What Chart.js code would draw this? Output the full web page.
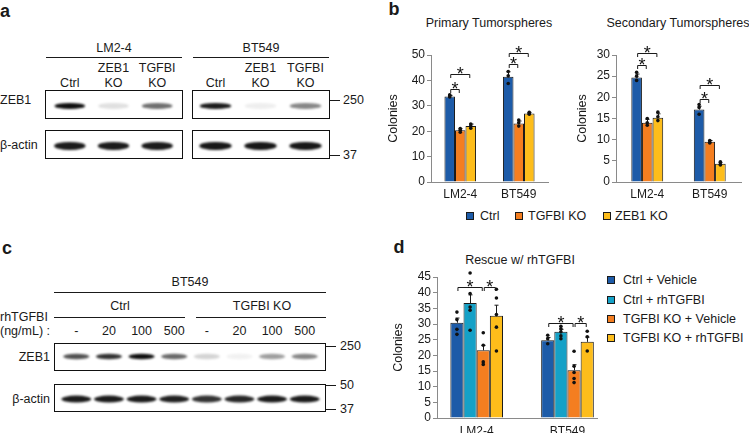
<!DOCTYPE html>
<html>
<head>
<meta charset="utf-8">
<script src="https://cdn.jsdelivr.net/npm/chart.js@4.4.1/dist/chart.umd.min.js"></script>
<style>
  html, body { margin: 0; padding: 0; background: #fff; overflow: hidden; }
  #fig { position: relative; width: 749px; height: 433px; font-family: 'Liberation Sans', Arial, sans-serif; color: #1a1a1a; }
  #fig canvas { position: absolute; }
  .t { position: absolute; white-space: nowrap; font-size: 12.5px; line-height: 1; }
  .pl { font-weight: bold; font-size: 18px; }
  .hl { position: absolute; height: 0; border-top: 1px solid #1a1a1a; }
  .sw { position: absolute; width: 6px; height: 6px; border: 1px solid #1a1a1a; }
</style>
</head>
<body>
<div id="fig"></div>
<script>
// ---- panel a: western blot band intensities (0 = no band, 1 = saturated)
const aLanes = ['Ctrl', 'ZEB1 KO', 'TGFBI KO']
const aZeb1Lm2 = [1.0, 0.13, 0.6]
const aZeb1Bt549 = [0.95, 0.07, 0.5]
const aActinLm2 = [0.95, 0.95, 0.95]
const aActinBt549 = [0.97, 0.97, 0.97]

// ---- panel c: BT549 +/- rhTGFBI dose
const cDoses = ['-', '20', '100', '500', '-', '20', '100', '500']
const cZeb1 = [0.72, 0.85, 1.0, 0.62, 0.18, 0.06, 0.4, 0.5]
const cActin = [0.95, 0.95, 0.95, 0.93, 0.85, 0.9, 0.95, 0.95]

// ---- panel b: tumorsphere colonies
const bGroups = ['LM2-4', 'BT549']
const bSeries = ['Ctrl', 'TGFBI KO', 'ZEB1 KO']
const primCtrl = [33.7, 41.4]
const primTgfbi = [20.4, 23.0]
const primZeb1 = [22.0, 27.0]
const primErr = [[0.4, 2.0], [0.6, 1.0], [0.8, 0.4]]
const primDots = [
  [[33.5, 34.0, 34.3], [43.5, 41.8, 38.8]],
  [[19.6, 20.4, 21.0], [22.0, 23.3, 24.4]],
  [[21.2, 22.0, 22.8], [26.7, 27.0, 27.4]]
]
const primSig = [[0, 0, 1, 36.8], [0, 0, 2, 42.4], [1, 0, 1, 46.4], [1, 0, 2, 50.7]]

const secCtrl = [24.7, 17.1]
const secTgfbi = [14.0, 9.5]
const secZeb1 = [15.2, 4.3]
const secErr = [[0.8, 0.8], [0.8, 0.3], [0.9, 0.3]]
const secDots = [
  [[25.9, 25.0, 24.0], [18.3, 17.6, 16.0]],
  [[15.0, 14.0, 13.4], [9.8, 9.4, 9.2]],
  [[16.5, 15.4, 14.5], [4.8, 4.2, 4.0]]
]
const secSig = [[0, 0, 1, 27.6], [0, 0, 2, 30.4], [1, 0, 1, 19.5], [1, 0, 2, 22.9]]

// ---- panel d: rescue with rhTGFBI
const dGroups = ['LM2-4', 'BT549']
const dSeries = ['Ctrl + Vehicle', 'Ctrl + rhTGFBI', 'TGFBI KO + Vehicle', 'TGFBI KO + rhTGFBI']
const dCtrlVeh = [30.4, 24.8]
const dCtrlRh = [36.7, 27.5]
const dKoVeh = [21.6, 15.2]
const dKoRh = [32.6, 24.3]
const dErr = [[1.5, 0.9], [2.6, 0.8], [1.6, 1.8], [3.4, 1.5]]
const dDots = [
  [[33.8, 31.4, 28.3, 26.7], [26.4, 25.3, 23.7]],
  [[46.3, 39.7, 35.4, 34.4, 28.0], [29.3, 28.5, 27.5, 26.2, 25.3]],
  [[27.2, 23.2, 17.9, 17.1], [21.3, 16.5, 14.5, 12.6, 11.3]],
  [[41.1, 38.3, 33.0, 29.0, 21.4], [27.7, 25.9, 21.4]]
]
const dSig = [[0, 0, 2, 41.8], [0, 2, 3, 41.8], [1, 0, 2, 30.4], [1, 2, 3, 30.4]]

const BLUE = '#1d5ba8', ORANGE = '#f47e20', YELLOW = '#fdbd1b', CYAN = '#15a1c7'

Chart.defaults.font.family = "'Liberation Sans', Arial, sans-serif"
Chart.defaults.font.size = 12
Chart.defaults.color = '#1a1a1a'

const fig = document.getElementById('fig')

function addCanvas (x, y, w, h) {
  const c = document.createElement('canvas')
  c.width = w
  c.height = h
  c.style.left = x + 'px'
  c.style.top = y + 'px'
  fig.appendChild(c)
  return c
}

function text (str, x, y, align, cls) {
  const el = document.createElement('div')
  el.className = 't' + (cls ? ' ' + cls : '')
  el.textContent = str
  el.style.left = x + 'px'
  el.style.top = y + 'px'
  const tx = align === 'l' ? '0' : (align === 'r' ? '-100%' : '-50%')
  el.style.transform = 'translate(' + tx + ',-50%)'
  fig.appendChild(el)
  return el
}

function hline (x1, x2, y) {
  const el = document.createElement('div')
  el.className = 'hl'
  el.style.left = x1 + 'px'
  el.style.top = y + 'px'
  el.style.width = (x2 - x1) + 'px'
  fig.appendChild(el)
}

function swatch (x, y, color) {
  const el = document.createElement('div')
  el.className = 'sw'
  el.style.left = x + 'px'
  el.style.top = (y - 4) + 'px'
  el.style.background = color
  fig.appendChild(el)
}

// draws blurred bands at each lane, alpha = intensity
const blotPlugin = {
  id: 'blot',
  afterDatasetsDraw (chart, args, opts) {
    const ctx = chart.ctx
    const vals = chart.data.datasets[0].data
    const cy = chart.chartArea.top + (chart.chartArea.bottom - chart.chartArea.top) * opts.center
    ctx.save()
    ctx.filter = 'blur(' + opts.blur + 'px)'
    chart.getDatasetMeta(0).data.forEach((el, i) => {
      ctx.fillStyle = 'rgba(15,15,15,' + vals[i] + ')'
      ctx.beginPath()
      ctx.ellipse(el.x, cy, el.width / 2, opts.thick / 2, 0, 0, Math.PI * 2)
      ctx.fill()
    })
    ctx.restore()
    ctx.save()
    ctx.strokeStyle = '#111'
    ctx.lineWidth = 1
    ctx.strokeRect(0.5, 0.5, chart.width - 1, chart.height - 1)
    ctx.restore()
  }
}

function blot (x, y, w, h, lanes, values, cfg) {
  const canvas = addCanvas(x, y, w, h)
  return new Chart(canvas, {
    type: 'bar',
    data: {
      labels: lanes,
      datasets: [{ data: values, backgroundColor: 'rgba(0,0,0,0)', barPercentage: cfg.band, categoryPercentage: 1 }]
    },
    options: {
      responsive: false,
      animation: false,
      devicePixelRatio: 1,
      layout: { padding: { left: cfg.padL, right: cfg.padR, top: 0, bottom: 0 } },
      scales: {
        x: { display: false },
        y: { display: false, min: 0, max: 1 }
      },
      plugins: { legend: { display: false }, tooltip: { enabled: false }, blot: cfg }
    },
    plugins: [blotPlugin]
  })
}

// error bars, replicate dots and significance brackets
const extrasPlugin = {
  id: 'extras',
  afterDatasetsDraw (chart, args, opts) {
    const ctx = chart.ctx
    const ys = chart.scales.y
    ctx.save()
    ctx.strokeStyle = '#1a1a1a'
    ctx.fillStyle = '#111'
    ctx.lineWidth = 1
    chart.data.datasets.forEach((ds, si) => {
      chart.getDatasetMeta(si).data.forEach((bar, gi) => {
        const top = ys.getPixelForValue(opts.values[si][gi] + opts.errs[si][gi])
        const x = Math.round(bar.x) + 0.5
        ctx.beginPath()
        ctx.moveTo(x, bar.y)
        ctx.lineTo(x, top)
        ctx.moveTo(x - 2, top)
        ctx.lineTo(x + 2, top)
        ctx.stroke()
        opts.dots[si][gi].forEach(d => {
          ctx.beginPath()
          ctx.arc(bar.x, ys.getPixelForValue(d), 1.8, 0, Math.PI * 2)
          ctx.fill()
        })
      })
    })
    ctx.font = "18px 'Liberation Sans', Arial, sans-serif"
    ctx.textAlign = 'center'
    ctx.textBaseline = 'alphabetic'
    opts.sig.forEach(s => {
      const x1 = chart.getDatasetMeta(s[1]).data[s[0]].x + 1
      const x2 = chart.getDatasetMeta(s[2]).data[s[0]].x - 1
      const y = Math.round(ys.getPixelForValue(s[3])) + 0.5
      ctx.beginPath()
      ctx.moveTo(x1, y + 3.5)
      ctx.lineTo(x1, y)
      ctx.lineTo(x2, y)
      ctx.lineTo(x2, y + 3.5)
      ctx.stroke()
      ctx.fillText('*', (x1 + x2) / 2, y + 5)
    })
    ctx.restore()
  }
}

function barChart (o) {
  const canvas = addCanvas(o.x, o.y, o.w, o.h)
  const datasets = o.series.map((name, si) => ({
    label: name,
    data: o.linearX ? o.values[si].map((v, i) => ({ x: i, y: v })) : o.values[si],
    backgroundColor: o.colors[si],
    borderColor: '#1a1a1a',
    borderWidth: 1,
    barPercentage: 1,
    categoryPercentage: o.catPct
  }))
  let xScale = {
    grid: { display: false, drawTicks: false, tickLength: 0 },
    border: { color: '#8a8a8a' },
    ticks: { padding: o.xPad, font: { size: 12 } },
    afterFit: s => { s.height = 22 }
  }
  if (o.linearX) {
    xScale = Object.assign(xScale, {
      type: 'linear',
      min: o.xMin,
      max: o.xMax,
      bounds: 'data',
      offset: false,
      afterBuildTicks: s => { s.ticks = o.groups.map((g, i) => ({ value: i })) },
      ticks: { padding: o.xPad, font: { size: 12 }, autoSkip: false, callback: v => o.groups[v] }
    })
  }
  return new Chart(canvas, {
    type: 'bar',
    data: { labels: o.groups, datasets: datasets },
    options: {
      responsive: false,
      animation: false,
      devicePixelRatio: 1,
      layout: { padding: { left: 4, top: o.padTop, right: 4, bottom: 0 } },
      plugins: {
        legend: { display: false },
        tooltip: { enabled: false },
        extras: { values: o.values, errs: o.errs, dots: o.dots, sig: o.sig }
      },
      scales: {
        x: xScale,
        y: {
          min: 0,
          max: o.ymax,
          ticks: { stepSize: o.step, padding: 2, autoSkip: false, font: { size: 12 } },
          grid: { drawOnChartArea: false, tickLength: 4, color: '#8a8a8a' },
          border: { color: '#8a8a8a' },
          title: { display: true, text: 'Colonies', font: { size: 12.5 }, padding: { top: 4, bottom: 4 } },
          afterFit: s => { s.width = o.yw }
        }
      }
    },
    plugins: [extrasPlugin]
  })
}

// ---------------- panel a
text('a', 5, 11, 'c', 'pl')
text('LM2-4', 114, 48)
text('BT549', 261, 48)
hline(46, 182, 57)
hline(193, 329, 57)
const aCfgZeb = { band: 0.7, center: 0.55, thick: 6, blur: 1.2 }
const aCfgAct = { band: 0.72, center: 0.55, thick: 8, blur: 1.2 }
const aBlots = [
  [45, blot(45, 90, 138, 29, aLanes, aZeb1Lm2, Object.assign({ padL: 3, padR: 4 }, aCfgZeb))],
  [192, blot(192, 90, 138, 29, aLanes, aZeb1Bt549, Object.assign({ padL: 1, padR: 2 }, aCfgZeb))]
]
blot(45, 130, 138, 29, aLanes, aActinLm2, Object.assign({ padL: 3, padR: 4 }, aCfgAct))
blot(192, 130, 138, 29, aLanes, aActinBt549, Object.assign({ padL: 1, padR: 2 }, aCfgAct))
aBlots.forEach(([left, ch]) => {
  aLanes.forEach((name, i) => {
    const cx = left + ch.scales.x.getPixelForValue(i)
    const parts = name.split(' ')
    parts.forEach((p, k) => text(p, cx, 83 - (parts.length - 1 - k) * 15))
  })
})
text('ZEB1', 0, 100, 'l')
text('β-actin', 0, 145, 'l')
hline(330, 340, 100)
hline(330, 340, 155)
text('250', 343, 100, 'l')
text('37', 343, 155, 'l')

// ---------------- panel c
text('c', 7, 248, 'c', 'pl')
text('BT549', 190, 282)
hline(54, 326, 292)
text('Ctrl', 120, 306)
text('TGFBI KO', 262, 306)
hline(54, 185, 317)
hline(196, 326, 317)
text('rhTGFBI', 0, 317, 'l')
text('(ng/mL) :', 0, 331, 'l')
const cZebChart = blot(54, 343, 272, 28, cDoses, cZeb1, { padL: 6, padR: 5, band: 0.8, center: 0.48, thick: 5.5, blur: 1.2 })
blot(54, 384, 272, 28, cDoses, cActin, { padL: 6, padR: 5, band: 0.92, center: 0.54, thick: 7, blur: 1.2 })
cDoses.forEach((d, i) => text(d, 54 + cZebChart.scales.x.getPixelForValue(i), 331))
text('ZEB1', 50, 357, 'r')
text('β-actin', 50, 399, 'r')
hline(326, 336, 346)
hline(326, 336, 385)
hline(326, 336, 409)
text('250', 340, 346, 'l')
text('50', 340, 385, 'l')
text('37', 340, 409, 'l')

// ---------------- panel b
text('b', 394, 9, 'c', 'pl')
text('Primary Tumorspheres', 489, 23)
text('Secondary Tumorspheres', 678, 23)
const bColors = [BLUE, ORANGE, YELLOW]
barChart({
  x: 378, y: 30, w: 174, h: 174, padTop: 25, yw: 49, xPad: 5, catPct: 0.54,
  groups: bGroups, series: bSeries, colors: bColors,
  values: [primCtrl, primTgfbi, primZeb1], errs: primErr, dots: primDots, sig: primSig,
  ymax: 50, step: 10
})
barChart({
  x: 567, y: 30, w: 178, h: 174, padTop: 25, yw: 45, xPad: 5, catPct: 0.51,
  groups: bGroups, series: bSeries, colors: bColors,
  values: [secCtrl, secTgfbi, secZeb1], errs: secErr, dots: secDots, sig: secSig,
  ymax: 30, step: 5
})
const bLegendX = [[466, 480], [515, 528], [603, 615]]
bSeries.forEach((name, i) => {
  swatch(bLegendX[i][0], 216, bColors[i])
  text(name, bLegendX[i][1], 216, 'l')
})

// ---------------- panel d
text('d', 399, 247, 'c', 'pl')
text('Rescue w/ rhTGFBI', 520, 260)
const dColors = [BLUE, CYAN, ORANGE, YELLOW]
barChart({
  x: 383, y: 265, w: 218, h: 175, padTop: 12, yw: 50, xPad: 6, catPct: 0.58,
  linearX: true, xMin: -0.437, xMax: 1.325,
  groups: dGroups, series: dSeries, colors: dColors,
  values: [dCtrlVeh, dCtrlRh, dKoVeh, dKoRh], errs: dErr, dots: dDots, sig: dSig,
  ymax: 45, step: 5
})
const dLegendY = [280, 300, 319, 338]
dSeries.forEach((name, i) => {
  swatch(607, dLegendY[i], dColors[i])
  text(name, 623, dLegendY[i], 'l')
})
</script>
</body>
</html>
